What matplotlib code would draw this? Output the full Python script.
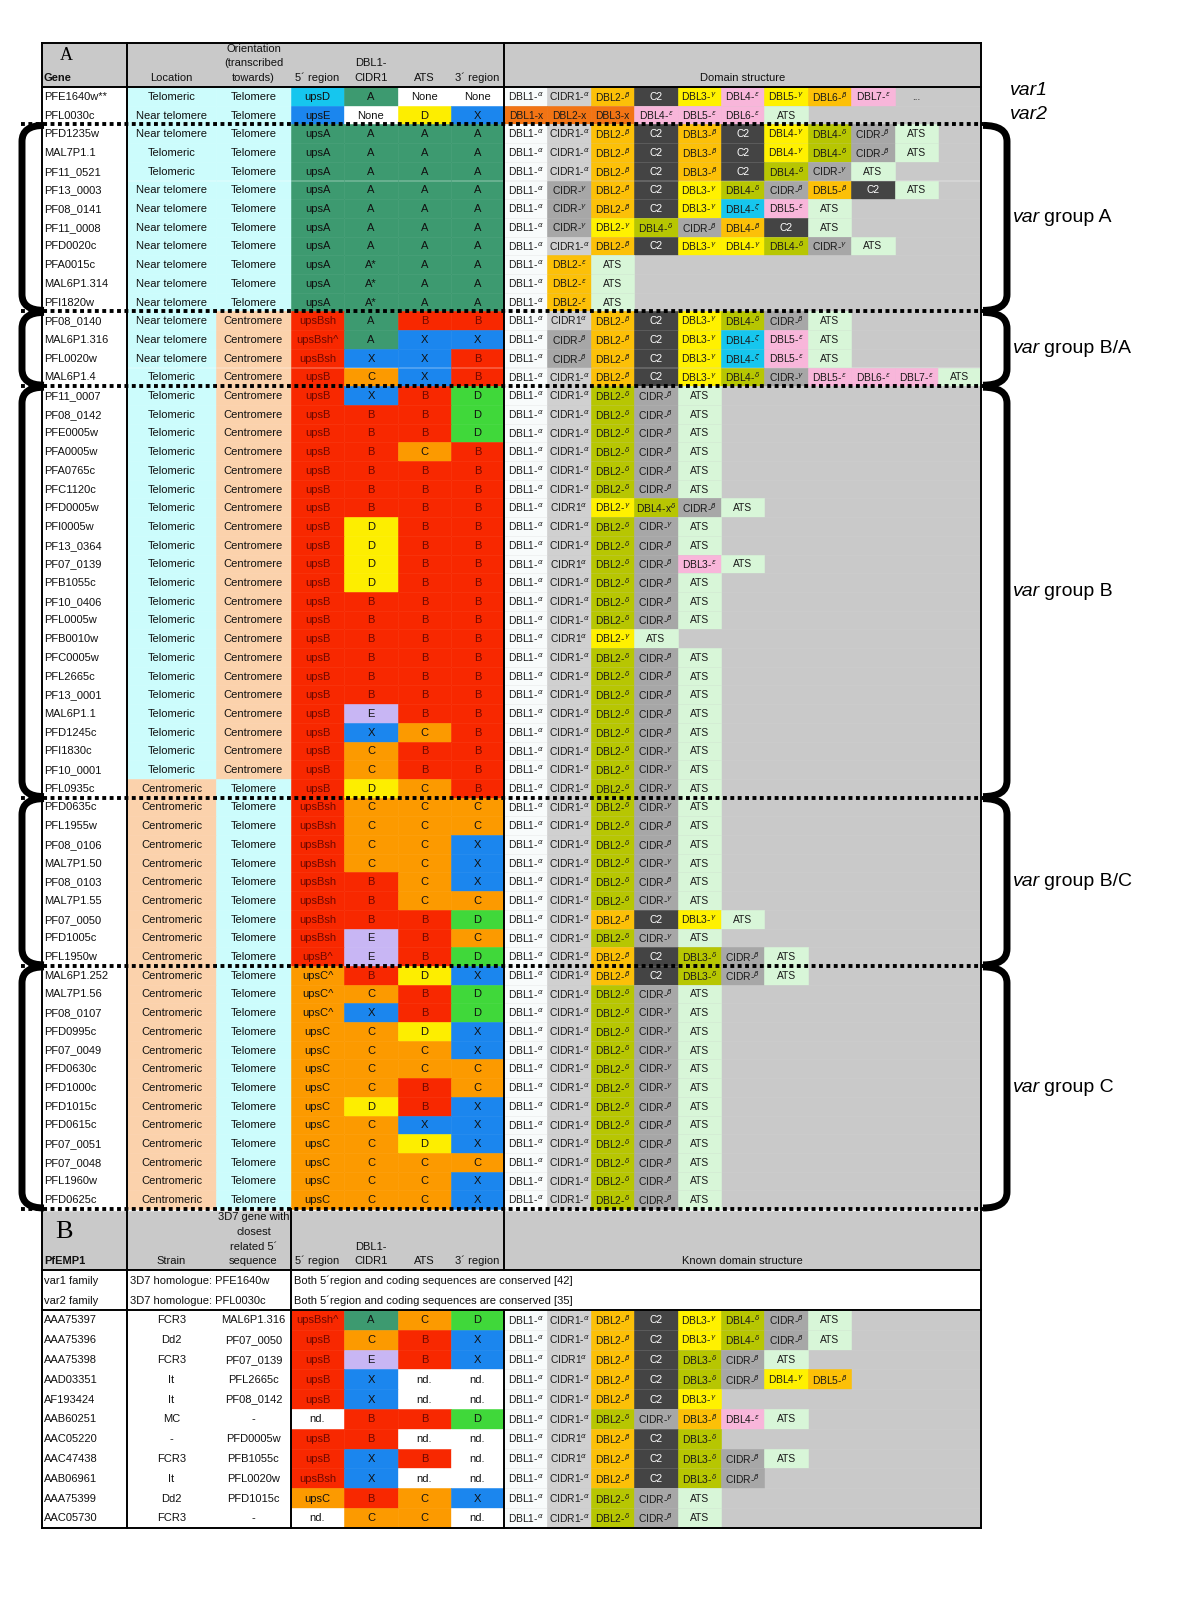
"""var gene table (panels A + B) redrawn as a matplotlib figure -> out.png"""
import matplotlib
matplotlib.use("Agg")
import matplotlib.pyplot as plt
from matplotlib.patches import Rectangle, PathPatch
from matplotlib.path import Path

plt.rcParams['font.family'] = ['Liberation Sans', 'DejaVu Sans']
plt.rcParams['mathtext.fontset'] = 'dejavusans'

# ---------------- data: panel A ----------------
genes = ["PFE1640w**", "PFL0030c",
         "PFD1235w", "MAL7P1.1", "PF11_0521", "PF13_0003", "PF08_0141", "PF11_0008", "PFD0020c",
         "PFA0015c", "MAL6P1.314", "PFI1820w",
         "PF08_0140", "MAL6P1.316", "PFL0020w", "MAL6P1.4",
         "PF11_0007", "PF08_0142", "PFE0005w", "PFA0005w", "PFA0765c", "PFC1120c", "PFD0005w",
         "PFI0005w", "PF13_0364", "PF07_0139", "PFB1055c", "PF10_0406", "PFL0005w", "PFB0010w",
         "PFC0005w", "PFL2665c", "PF13_0001", "MAL6P1.1", "PFD1245c", "PFI1830c", "PF10_0001",
         "PFL0935c",
         "PFD0635c", "PFL1955w", "PF08_0106", "MAL7P1.50", "PF08_0103", "MAL7P1.55", "PF07_0050",
         "PFD1005c", "PFL1950w",
         "MAL6P1.252", "MAL7P1.56", "PF08_0107", "PFD0995c", "PF07_0049", "PFD0630c", "PFD1000c",
         "PFD1015c", "PFD0615c", "PF07_0051", "PF07_0048", "PFL1960w", "PFD0625c"]

location = (["Telomeric", "Near telomere", "Near telomere", "Telomeric", "Telomeric"]
            + ["Near telomere"] * 10 + ["Telomeric"] + ["Telomeric"] * 21 + ["Centromeric"] * 23)
orientation = ["Telomere"] * 12 + ["Centromere"] * 25 + ["Telomere"] * 23

five_prime = (["upsD", "upsE"] + ["upsA"] * 10
              + ["upsBsh", "upsBsh^", "upsBsh", "upsB"] + ["upsB"] * 22
              + ["upsBsh"] * 8 + ["upsB^"] + ["upsC^"] * 3 + ["upsC"] * 10)
dbl1_cidr1 = (["A", "None"] + ["A"] * 7 + ["A*"] * 3
              + ["A", "A", "X", "C"]
              + ["X", "B", "B", "B", "B", "B", "B", "D", "D", "D", "D", "B", "B", "B", "B", "B", "B",
                 "E", "X", "C", "C", "D"]
              + ["C", "C", "C", "C", "B", "B", "B", "E", "E"]
              + ["B", "C", "X", "C", "C", "C", "C", "D", "C", "C", "C", "C", "C"])
ats = (["None", "D"] + ["A"] * 10
       + ["B", "X", "X", "X"]
       + ["B", "B", "B", "C"] + ["B"] * 14 + ["C", "B", "B", "C"]
       + ["C", "C", "C", "C", "C", "C", "B", "B", "B"]
       + ["D", "B", "B", "D", "C", "C", "B", "B", "X", "D", "C", "C", "C"])
three_prime = (["None", "X"] + ["A"] * 10
               + ["B", "X", "B", "B"]
               + ["D", "D", "D"] + ["B"] * 19
               + ["C", "C", "X", "X", "X", "C", "D", "C", "D"]
               + ["X", "D", "D", "X", "X", "C", "C", "X", "X", "X", "C", "X", "X"])

BD = ["DBL1-α", "CIDR1-α", "DBL2-δ", "CIDR-β", "ATS"]
BG = ["DBL1-α", "CIDR1-α", "DBL2-δ", "CIDR-γ", "ATS"]
A_EPS = ["DBL1-α", "DBL2-ε", "ATS"]
domains = [
    ["DBL1-α", "CIDR1-α", "DBL2-β", "C2", "DBL3-γ", "DBL4-ε", "DBL5-γ", "DBL6-β", "DBL7-ε", "..."],
    ["DBL1-x", "DBL2-x", "DBL3-x", "DBL4-ε", "DBL5-ε", "DBL6-ε", "ATS"],
    # var group A
    ["DBL1-α", "CIDR1-α", "DBL2-β", "C2", "DBL3-β", "C2", "DBL4-γ", "DBL4-δ", "CIDR-β", "ATS"],
    ["DBL1-α", "CIDR1-α", "DBL2-β", "C2", "DBL3-β", "C2", "DBL4-γ", "DBL4-δ", "CIDR-β", "ATS"],
    ["DBL1-α", "CIDR1-α", "DBL2-β", "C2", "DBL3-β", "C2", "DBL4-δ", "CIDR-γ", "ATS"],
    ["DBL1-α", "CIDR-γ", "DBL2-β", "C2", "DBL3-γ", "DBL4-δ", "CIDR-β", "DBL5-β", "C2", "ATS"],
    ["DBL1-α", "CIDR-γ", "DBL2-β", "C2", "DBL3-γ", "DBL4-ζ", "DBL5-ε", "ATS"],
    ["DBL1-α", "CIDR-γ", "DBL2-γ", "DBL4-δ", "CIDR-β", "DBL4-β", "C2", "ATS"],
    ["DBL1-α", "CIDR1-α", "DBL2-β", "C2", "DBL3-γ", "DBL4-γ", "DBL4-δ", "CIDR-γ", "ATS"],
    A_EPS, A_EPS, A_EPS,
    # var group B/A
    ["DBL1-α", "CIDR1α", "DBL2-β", "C2", "DBL3-γ", "DBL4-δ", "CIDR-β", "ATS"],
    ["DBL1-α", "CIDR-β", "DBL2-β", "C2", "DBL3-γ", "DBL4-ζ", "DBL5-ε", "ATS"],
    ["DBL1-α", "CIDR-β", "DBL2-β", "C2", "DBL3-γ", "DBL4-ζ", "DBL5-ε", "ATS"],
    ["DBL1-α", "CIDR1-α", "DBL2-β", "C2", "DBL3-γ", "DBL4-δ", "CIDR-γ", "DBL5-ε", "DBL6-ε", "DBL7-ε", "ATS"],
    # var group B
    BD, BD, BD, BD, BD, BD,
    ["DBL1-α", "CIDR1α", "DBL2-γ", "DBL4-xδ", "CIDR-β", "ATS"],
    BG, BD,
    ["DBL1-α", "CIDR1α", "DBL2-δ", "CIDR-β", "DBL3-ε", "ATS"],
    BD, BD, BD,
    ["DBL1-α", "CIDR1α", "DBL2-γ", "ATS"],
    BD, BD, BD, BD, BD, BG, BG, BG,
    # var group B/C
    BG, BD, BD, BG, BD, BG,
    ["DBL1-α", "CIDR1-α", "DBL2-β", "C2", "DBL3-γ", "ATS"],
    BG,
    ["DBL1-α", "CIDR1-α", "DBL2-β", "C2", "DBL3-δ", "CIDR-β", "ATS"],
    # var group C
    ["DBL1-α", "CIDR1-α", "DBL2-β", "C2", "DBL3-δ", "CIDR-β", "ATS"],
    BD, BG, BG, BG, BG, BG, BD, BD, BD, BD, BD, BD,
]

group_names = ["A", "B/A", "B", "B/C", "C"]
group_sizes = [10, 4, 22, 9, 13]

# ---------------- data: panel B ----------------
pfemp1 = ["AAA75397", "AAA75396", "AAA75398", "AAD03351", "AF193424", "AAB60251",
          "AAC05220", "AAC47438", "AAB06961", "AAA75399", "AAC05730"]
strain = ["FCR3", "Dd2", "FCR3", "It", "It", "MC", "-", "FCR3", "It", "Dd2", "FCR3"]
closest_3d7 = ["MAL6P1.316", "PF07_0050", "PF07_0139", "PFL2665c", "PF08_0142", "-",
               "PFD0005w", "PFB1055c", "PFL0020w", "PFD1015c", "-"]
b_five = ["upsBsh^", "upsB", "upsB", "upsB", "upsB", "nd.", "upsB", "upsB", "upsBsh", "upsC", "nd."]
b_dbl1 = ["A", "C", "E", "X", "X", "B", "B", "X", "X", "B", "C"]
b_ats = ["C", "B", "B", "nd.", "nd.", "B", "nd.", "B", "nd.", "C", "C"]
b_three = ["D", "X", "X", "nd.", "nd.", "D", "nd.", "nd.", "nd.", "X", "nd."]
b_domains = [
    ["DBL1-α", "CIDR1-α", "DBL2-β", "C2", "DBL3-γ", "DBL4-δ", "CIDR-β", "ATS"],
    ["DBL1-α", "CIDR1-α", "DBL2-β", "C2", "DBL3-γ", "DBL4-δ", "CIDR-β", "ATS"],
    ["DBL1-α", "CIDR1α", "DBL2-β", "C2", "DBL3-δ", "CIDR-β", "ATS"],
    ["DBL1-α", "CIDR1-α", "DBL2-β", "C2", "DBL3-δ", "CIDR-β", "DBL4-γ", "DBL5-β"],
    ["DBL1-α", "CIDR1-α", "DBL2-β", "C2", "DBL3-γ"],
    ["DBL1-α", "CIDR1-α", "DBL2-δ", "CIDR-γ", "DBL3-β", "DBL4-ε", "ATS"],
    ["DBL1-α", "CIDR1α", "DBL2-β", "C2", "DBL3-δ"],
    ["DBL1-α", "CIDR1α", "DBL2-β", "C2", "DBL3-δ", "CIDR-β", "ATS"],
    ["DBL1-α", "CIDR1-α", "DBL2-β", "C2", "DBL3-δ", "CIDR-β"],
    BD, BD,
]
family_rows = [("var1 family", "3D7 homologue: PFE1640w",
                "Both 5\u00b4region and coding sequences are conserved [42]"),
               ("var2 family", "3D7 homologue: PFL0030c",
                "Both 5\u00b4region and coding sequences are conserved [35]")]

# ---------------- colours ----------------
GREY_BG = "#c9c9c9"
LCYAN, PEACH = "#ccfcfc", "#fbd2ac"
TEAL, RED, ORANGE = "#3d9a70", "#f82800", "#fc9a00"
YELLOW, GREEN, BLUE = "#fdee00", "#40d83a", "#1b86ee"
CYAN, LAV, WHITE = "#16c6ee", "#c8b6f4", "#ffffff"
AMBER = "#fcc008"

UPS_COL = {"upsA": TEAL, "upsB": RED, "upsBsh": RED, "upsBsh^": RED, "upsB^": RED,
           "upsC": ORANGE, "upsC^": ORANGE, "upsD": CYAN, "upsE": BLUE, "nd.": WHITE}
LET_COL = {"A": TEAL, "A*": TEAL, "B": RED, "C": ORANGE, "D": YELLOW, "E": LAV,
           "X": BLUE, "None": WHITE, "nd.": WHITE}
THREE_COL = dict(LET_COL, D=GREEN)
DOM_GREEK_COL = {"β": AMBER, "γ": "#fff100", "δ": "#b7c602", "ε": "#f8b6da", "ζ": "#16c6ee"}
GREEK = {"α": r"\alpha", "β": r"\beta", "γ": r"\gamma", "δ": r"\delta", "ε": r"\varepsilon", "ζ": r"\zeta"}


def dom_color(lbl):
    if lbl == "...":
        return None
    if lbl == "ATS":
        return "#d8f6d8"
    if lbl == "C2":
        return "#444444"
    if lbl.startswith("DBL1-α"):
        return "#f8fbfb"
    if lbl.endswith("-x"):
        return "#f27414"
    if lbl.startswith("CIDR1"):
        return "#d0d0d0"
    if lbl.startswith("CIDR"):
        return "#a7a7a7"
    if lbl == "DBL2-ε":  # drawn amber in the original figure
        return AMBER
    return DOM_GREEK_COL[lbl[-1]]


def dom_text(lbl):
    if lbl[-1] in GREEK:
        return lbl[:-1] + r"$^{" + GREEK[lbl[-1]] + "}$"
    return lbl


# ---------------- layout (pixel grid) ----------------
XL0, XG, XLOC, XOR, X5, XD, XA, X3, XR = 42, 127, 216, 291, 344, 398, 451, 504, 981
SLOT = (938 - 504) / 10
A_TOP, A_HEAD, A_ROW = 43, 87, 18.7
n_a = len(genes)
A_BOT = A_HEAD + n_a * A_ROW
B_HEAD, B_FAM, B_ROW = A_BOT + 61, A_BOT + 101, 19.8
B_BOT = B_FAM + len(pfemp1) * B_ROW

fig = plt.figure(figsize=(11.99, 16), dpi=100)
ax = fig.add_axes([0, 0, 1, 1])
ax.set_xlim(0, 1199)
ax.set_ylim(1600, 0)
ax.axis("off")

FS = 8


def box(x0, x1, y0, y1, color):
    ax.add_patch(Rectangle((x0, y0), x1 - x0, y1 - y0, facecolor=color,
                           edgecolor=color, lw=0.4, zorder=1))


def label(x, y, s, ha="center", size=FS, color="#111111", **kw):
    ax.text(x, y, s, ha=ha, va="center", fontsize=size, color=color, zorder=3, **kw)


def value_cells(y0, y1, five, d1, at, th):
    yc = (y0 + y1) / 2
    for (xa, xb), val, cmap in zip([(XOR, X5), (X5, XD), (XD, XA), (XA, X3)],
                                   [five, d1, at, th], [UPS_COL, LET_COL, LET_COL, THREE_COL]):
        c = cmap[val]
        box(xa, xb, y0, y1, c)
        label((xa + xb) / 2, yc + 0.5, val, color="#6e0800" if c == RED else "#111111")


def domain_row(y0, y1, doms):
    box(X3, XR, y0, y1, GREY_BG)
    for k, d in enumerate(doms):
        xa = X3 + k * SLOT
        c = dom_color(d)
        if c is not None:
            box(xa, min(xa + SLOT, XR), y0, y1, c)
        label(xa + SLOT / 2, (y0 + y1) / 2 + 0.5, dom_text(d), size=7.4,
              color="white" if d == "C2" else "#1a1a1a")


# ---- panel A header ----
box(XL0, XR, A_TOP, A_HEAD, GREY_BG)
hy = A_HEAD - 9
ax.text(66, 56, "A", fontsize=13, family="Liberation Serif", ha="center", va="center", zorder=3)
label(44, hy, "Gene", ha="left", weight="bold")
label((XG + XLOC) / 2, hy, "Location")
label((XLOC + XOR) / 2, hy - 29, "Orientation")
label((XLOC + XOR) / 2, hy - 14.5, "(transcribed")
label((XLOC + XOR) / 2, hy, "towards)")
label((XOR + X5) / 2, hy, "5\u00b4 region")
label((X5 + XD) / 2, hy - 14.5, "DBL1-")
label((X5 + XD) / 2, hy, "CIDR1")
label((XD + XA) / 2, hy, "ATS")
label((XA + X3) / 2, hy, "3\u00b4 region")
label((X3 + XR) / 2, hy, "Domain structure")

# ---- panel A body ----
for i in range(n_a):
    y0 = A_HEAD + i * A_ROW
    y1 = y0 + A_ROW
    yc = (y0 + y1) / 2 + 0.5
    box(XL0, XG, y0, y1, WHITE)
    label(44, yc, genes[i], ha="left")
    box(XG, XLOC, y0, y1, PEACH if location[i] == "Centromeric" else LCYAN)
    label((XG + XLOC) / 2, yc, location[i])
    box(XLOC, XOR, y0, y1, PEACH if orientation[i] == "Centromere" else LCYAN)
    label((XLOC + XOR) / 2, yc, orientation[i])
    value_cells(y0, y1, five_prime[i], dbl1_cidr1[i], ats[i], three_prime[i])
    domain_row(y0, y1, domains[i])

# panel A frame
for x in (XL0, XG, X3, XR):
    ax.plot([x, x], [A_TOP, A_BOT], color="k", lw=1.4, zorder=4)
ax.plot([XL0, XR], [A_TOP, A_TOP], color="k", lw=1.4, zorder=4)
ax.plot([XL0, XR], [A_HEAD, A_HEAD], color="k", lw=1.4, zorder=4)

# group boundaries, braces and labels
bounds = [A_HEAD + 2 * A_ROW]
for s in group_sizes:
    bounds.append(bounds[-1] + s * A_ROW)
for yb in bounds:
    ax.plot([21, XR + 2], [yb, yb], color="k", lw=2.8, ls=(0, (1, 0.9)),
            solid_capstyle="butt", zorder=5)


def brace(x_in, x_out, y0, y1, r=16):
    verts = [(x_in, y0), (x_out, y0), (x_out, y0 + r), (x_out, y1 - r), (x_out, y1), (x_in, y1)]
    codes = [Path.MOVETO, Path.CURVE3, Path.CURVE3, Path.LINETO, Path.CURVE3, Path.CURVE3]
    ax.add_patch(PathPatch(Path(verts, codes), fill=False, lw=5, edgecolor="k",
                           capstyle="butt", joinstyle="round", zorder=5))


renderer = fig.canvas.get_renderer()
inv = ax.transData.inverted()
for name, y0, y1 in zip(group_names, bounds[:-1], bounds[1:]):
    brace(XR + 2, 1007, y0 + 1, y1 - 1)
    brace(XL0 + 2, 22, y0 + 1, y1 - 1)
    yc = (y0 + y1) / 2
    t = ax.text(1013, yc, "var", fontsize=14, style="italic", ha="left", va="center", zorder=3)
    bb = t.get_window_extent(renderer=renderer)
    x_end = inv.transform((bb.x1, bb.y0))[0]
    ax.text(x_end + 4, yc, "group " + name, fontsize=14, ha="left", va="center", zorder=3)
for i, nm in enumerate(["var1", "var2"]):
    ax.text(1010, A_HEAD + (i + 0.5) * A_ROW - 6 + i * 5, nm, fontsize=14, style="italic",
            ha="left", va="center", zorder=3)

# ---- panel B header ----
box(XL0, XR, A_BOT + 1.5, B_HEAD, GREY_BG)
hy = B_HEAD - 9
ax.text(64, A_BOT + 23, "B", fontsize=19, family="Liberation Serif", ha="center", va="center", zorder=3)
label(44, hy, "PfEMP1", ha="left", weight="bold")
label((XG + XLOC) / 2, hy, "Strain")
for k, s in enumerate(["3D7 gene with", "closest", "related 5\u00b4", "sequence"]):
    label((XLOC + XOR) / 2, hy - (3 - k) * 14.5, s)
label((XOR + X5) / 2, hy, "5\u00b4 region")
label((X5 + XD) / 2, hy - 14.5, "DBL1-")
label((X5 + XD) / 2, hy, "CIDR1")
label((XD + XA) / 2, hy, "ATS")
label((XA + X3) / 2, hy, "3\u00b4 region")
label((X3 + XR) / 2, hy, "Known domain structure")

# family rows
for k, (fam, homo, note) in enumerate(family_rows):
    yc = B_HEAD + (k + 0.5) * 20 + 1
    label(44, yc, fam, ha="left")
    label(XG + 3, yc, homo, ha="left")
    label(XOR + 3, yc, note, ha="left")

# panel B rows
for i in range(len(pfemp1)):
    y0 = B_FAM + i * B_ROW
    y1 = y0 + B_ROW
    yc = (y0 + y1) / 2 + 0.5
    label(44, yc, pfemp1[i], ha="left")
    label((XG + XLOC) / 2, yc, strain[i])
    label((XLOC + XOR) / 2, yc, closest_3d7[i])
    value_cells(y0, y1, b_five[i], b_dbl1[i], b_ats[i], b_three[i])
    domain_row(y0, y1, b_domains[i])

# panel B frame
for x in (XL0, XG, XOR, XR):
    ax.plot([x, x], [A_BOT, B_BOT], color="k", lw=1.4, zorder=4)
ax.plot([X3, X3], [A_BOT, B_HEAD], color="k", lw=1.4, zorder=4)
ax.plot([X3, X3], [B_FAM, B_BOT], color="k", lw=1.4, zorder=4)
for y in (B_HEAD, B_FAM, B_BOT):
    ax.plot([XL0, XR], [y, y], color="k", lw=1.4, zorder=4)

fig.savefig("out.png", dpi=100, facecolor="white")
